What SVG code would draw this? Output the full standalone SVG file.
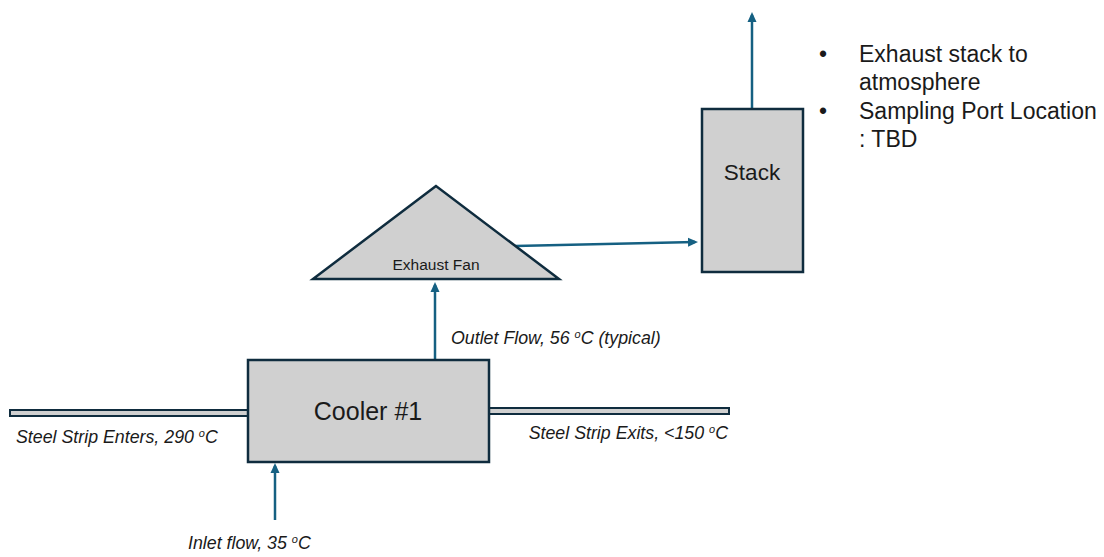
<svg xmlns="http://www.w3.org/2000/svg" width="1104" height="557" viewBox="0 0 1104 557">
<style>
.shape{fill:#d0d0d0;stroke:#0f2c3e;stroke-width:2.5}
.strip{fill:#d0d0d0;stroke:#0f2c3e;stroke-width:2}
.conn{stroke:#156082;stroke-width:2.5;fill:none}
text{font-family:"Liberation Sans",Arial,sans-serif;fill:#1a1a1a}
.lbl{font-size:17.8px;font-style:italic}
.sup{font-size:11px}
.note{font-size:23px}
</style>
<defs>
<marker id="ah" markerWidth="10" markerHeight="10" refX="7" refY="5" orient="auto" markerUnits="userSpaceOnUse">
<path d="M0,0.5 L10,5 L0,9.5 z" fill="#156082"/>
</marker>
</defs>
<rect width="1104" height="557" fill="#fff"/>
<g id="connectors">
<line class="conn" x1="275" y1="520" x2="275" y2="466" marker-end="url(#ah)"/>
<line class="conn" x1="435" y1="360" x2="435" y2="285" marker-end="url(#ah)"/>
<line class="conn" x1="515" y1="246" x2="695" y2="242" marker-end="url(#ah)"/>
<line class="conn" x1="752" y1="109" x2="752" y2="15" marker-end="url(#ah)"/>
</g>
<g id="strip-in"><rect class="strip" x="10" y="410" width="241" height="6"/></g>
<g id="strip-out"><rect class="strip" x="488" y="408" width="241" height="6"/></g>
<g id="cooler">
<rect class="shape" x="248" y="360" width="241" height="102"/>
<text x="368" y="420" font-size="25" text-anchor="middle">Cooler #1</text>
</g>
<g id="fan">
<polygon class="shape" points="436,186 313,279 559,279"/>
<text x="436" y="270" font-size="15.5" text-anchor="middle">Exhaust Fan</text>
</g>
<g id="stack">
<rect class="shape" x="702" y="109" width="101" height="163"/>
<text x="752" y="180" font-size="22.5" text-anchor="middle">Stack</text>
</g>
<g id="labels">
<text class="lbl" x="16" y="443">Steel Strip Enters, 290 <tspan class="sup" dy="-6">o</tspan><tspan dy="6">C</tspan></text>
<text class="lbl" x="728" y="439" text-anchor="end">Steel Strip Exits, &lt;150 <tspan class="sup" dy="-6">o</tspan><tspan dy="6">C</tspan></text>
<text class="lbl" x="188" y="549">Inlet flow, 35 <tspan class="sup" dy="-6">o</tspan><tspan dy="6">C</tspan></text>
<text class="lbl" x="451" y="344">Outlet Flow, 56 <tspan class="sup" dy="-6">o</tspan><tspan dy="6">C (typical)</tspan></text>
</g>
<g id="notes">
<text class="note" x="819" y="62">•</text>
<text class="note" x="859" y="62">Exhaust stack to</text>
<text class="note" x="859" y="90">atmosphere</text>
<text class="note" x="819" y="119">•</text>
<text class="note" x="859" y="119">Sampling Port Location</text>
<text class="note" x="859" y="147">: TBD</text>
</g>
</svg>
